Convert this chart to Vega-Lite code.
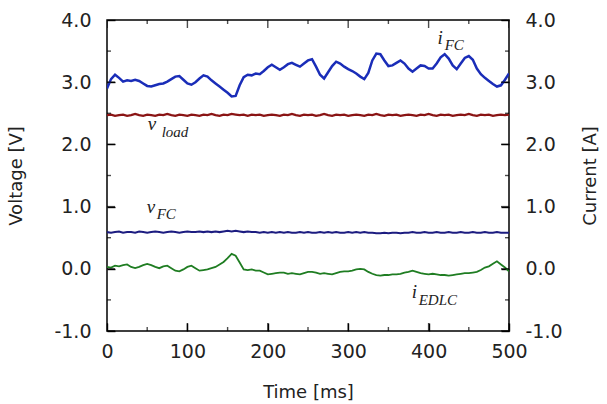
{
  "$schema": "https://vega.github.io/schema/vega-lite/v6.json",
  "width": 402,
  "height": 311,
  "autosize": "none",
  "padding": {"left": 107, "top": 20, "right": 98, "bottom": 73},
  "background": "white",
  "config": {
    "view": {"stroke": "black", "strokeWidth": 1.5},
    "axis": {
      "labelFont": "DejaVu Sans",
      "titleFont": "DejaVu Sans",
      "labelFontSize": 19,
      "titleFontSize": 18,
      "titleFontWeight": "normal",
      "labelColor": "#222",
      "titleColor": "#222",
      "labelFlush": false,
      "labelOverlap": false,
      "domain": false,
      "grid": false,
      "ticks": true,
      "tickColor": "black",
      "tickWidth": 1.4
    }
  },
  "datasets": {
    "series": [
      {"t":0,"iFC":2.90,"vload":2.47,"vFC":0.59,"iEDLC":0.03},
      {"t":5,"iFC":3.05,"vload":2.48,"vFC":0.58,"iEDLC":0.02},
      {"t":10,"iFC":3.12,"vload":2.46,"vFC":0.59,"iEDLC":0.05},
      {"t":15,"iFC":3.07,"vload":2.47,"vFC":0.60,"iEDLC":0.04},
      {"t":20,"iFC":3.01,"vload":2.48,"vFC":0.58,"iEDLC":0.06},
      {"t":25,"iFC":3.03,"vload":2.46,"vFC":0.59,"iEDLC":0.07},
      {"t":30,"iFC":3.02,"vload":2.47,"vFC":0.59,"iEDLC":0.03},
      {"t":35,"iFC":3.04,"vload":2.49,"vFC":0.58,"iEDLC":0.01},
      {"t":40,"iFC":3.02,"vload":2.47,"vFC":0.60,"iEDLC":0.03},
      {"t":45,"iFC":2.98,"vload":2.46,"vFC":0.59,"iEDLC":0.06},
      {"t":50,"iFC":2.94,"vload":2.48,"vFC":0.58,"iEDLC":0.08},
      {"t":55,"iFC":2.93,"vload":2.47,"vFC":0.59,"iEDLC":0.06},
      {"t":60,"iFC":2.95,"vload":2.46,"vFC":0.60,"iEDLC":0.03},
      {"t":65,"iFC":2.97,"vload":2.48,"vFC":0.59,"iEDLC":0.01},
      {"t":70,"iFC":2.98,"vload":2.47,"vFC":0.58,"iEDLC":0.04},
      {"t":75,"iFC":3.01,"vload":2.49,"vFC":0.59,"iEDLC":0.05},
      {"t":80,"iFC":3.05,"vload":2.47,"vFC":0.60,"iEDLC":0.01},
      {"t":85,"iFC":3.09,"vload":2.46,"vFC":0.59,"iEDLC":-0.03},
      {"t":90,"iFC":3.10,"vload":2.48,"vFC":0.58,"iEDLC":-0.04},
      {"t":95,"iFC":3.04,"vload":2.47,"vFC":0.59,"iEDLC":-0.01},
      {"t":100,"iFC":2.98,"vload":2.46,"vFC":0.60,"iEDLC":0.03},
      {"t":105,"iFC":2.96,"vload":2.48,"vFC":0.59,"iEDLC":0.05},
      {"t":110,"iFC":3.00,"vload":2.47,"vFC":0.59,"iEDLC":0.01},
      {"t":115,"iFC":3.06,"vload":2.46,"vFC":0.60,"iEDLC":-0.03},
      {"t":120,"iFC":3.11,"vload":2.48,"vFC":0.59,"iEDLC":-0.02},
      {"t":125,"iFC":3.09,"vload":2.47,"vFC":0.60,"iEDLC":-0.01},
      {"t":130,"iFC":3.03,"vload":2.49,"vFC":0.59,"iEDLC":0.01},
      {"t":135,"iFC":2.98,"vload":2.47,"vFC":0.60,"iEDLC":0.03},
      {"t":140,"iFC":2.93,"vload":2.46,"vFC":0.59,"iEDLC":0.07},
      {"t":145,"iFC":2.88,"vload":2.48,"vFC":0.60,"iEDLC":0.11},
      {"t":150,"iFC":2.83,"vload":2.47,"vFC":0.61,"iEDLC":0.17},
      {"t":155,"iFC":2.77,"vload":2.49,"vFC":0.60,"iEDLC":0.24},
      {"t":160,"iFC":2.78,"vload":2.48,"vFC":0.61,"iEDLC":0.21},
      {"t":165,"iFC":2.95,"vload":2.47,"vFC":0.60,"iEDLC":0.10},
      {"t":170,"iFC":3.08,"vload":2.48,"vFC":0.59,"iEDLC":-0.01},
      {"t":175,"iFC":3.12,"vload":2.46,"vFC":0.60,"iEDLC":-0.02},
      {"t":180,"iFC":3.11,"vload":2.48,"vFC":0.59,"iEDLC":-0.01},
      {"t":185,"iFC":3.14,"vload":2.47,"vFC":0.59,"iEDLC":-0.03},
      {"t":190,"iFC":3.13,"vload":2.48,"vFC":0.58,"iEDLC":-0.03},
      {"t":195,"iFC":3.18,"vload":2.46,"vFC":0.59,"iEDLC":-0.06},
      {"t":200,"iFC":3.24,"vload":2.47,"vFC":0.58,"iEDLC":-0.09},
      {"t":205,"iFC":3.28,"vload":2.48,"vFC":0.59,"iEDLC":-0.08},
      {"t":210,"iFC":3.24,"vload":2.47,"vFC":0.58,"iEDLC":-0.07},
      {"t":215,"iFC":3.20,"vload":2.46,"vFC":0.59,"iEDLC":-0.06},
      {"t":220,"iFC":3.24,"vload":2.48,"vFC":0.58,"iEDLC":-0.06},
      {"t":225,"iFC":3.29,"vload":2.47,"vFC":0.59,"iEDLC":-0.08},
      {"t":230,"iFC":3.31,"vload":2.49,"vFC":0.58,"iEDLC":-0.07},
      {"t":235,"iFC":3.28,"vload":2.47,"vFC":0.58,"iEDLC":-0.08},
      {"t":240,"iFC":3.25,"vload":2.46,"vFC":0.59,"iEDLC":-0.09},
      {"t":245,"iFC":3.30,"vload":2.48,"vFC":0.58,"iEDLC":-0.07},
      {"t":250,"iFC":3.35,"vload":2.47,"vFC":0.59,"iEDLC":-0.05},
      {"t":255,"iFC":3.37,"vload":2.48,"vFC":0.58,"iEDLC":-0.05},
      {"t":260,"iFC":3.25,"vload":2.46,"vFC":0.58,"iEDLC":-0.06},
      {"t":265,"iFC":3.12,"vload":2.47,"vFC":0.59,"iEDLC":-0.08},
      {"t":270,"iFC":3.06,"vload":2.49,"vFC":0.58,"iEDLC":-0.07},
      {"t":275,"iFC":3.16,"vload":2.47,"vFC":0.59,"iEDLC":-0.08},
      {"t":280,"iFC":3.26,"vload":2.46,"vFC":0.58,"iEDLC":-0.09},
      {"t":285,"iFC":3.33,"vload":2.48,"vFC":0.59,"iEDLC":-0.07},
      {"t":290,"iFC":3.30,"vload":2.47,"vFC":0.58,"iEDLC":-0.05},
      {"t":295,"iFC":3.25,"vload":2.48,"vFC":0.58,"iEDLC":-0.04},
      {"t":300,"iFC":3.21,"vload":2.46,"vFC":0.59,"iEDLC":-0.04},
      {"t":305,"iFC":3.18,"vload":2.47,"vFC":0.58,"iEDLC":-0.03},
      {"t":310,"iFC":3.14,"vload":2.48,"vFC":0.59,"iEDLC":-0.01},
      {"t":315,"iFC":3.09,"vload":2.47,"vFC":0.58,"iEDLC":0.00},
      {"t":320,"iFC":3.05,"vload":2.46,"vFC":0.59,"iEDLC":-0.01},
      {"t":325,"iFC":3.15,"vload":2.48,"vFC":0.58,"iEDLC":-0.05},
      {"t":330,"iFC":3.35,"vload":2.47,"vFC":0.58,"iEDLC":-0.08},
      {"t":335,"iFC":3.46,"vload":2.49,"vFC":0.57,"iEDLC":-0.10},
      {"t":340,"iFC":3.45,"vload":2.47,"vFC":0.57,"iEDLC":-0.11},
      {"t":345,"iFC":3.35,"vload":2.46,"vFC":0.58,"iEDLC":-0.10},
      {"t":350,"iFC":3.26,"vload":2.48,"vFC":0.57,"iEDLC":-0.10},
      {"t":355,"iFC":3.27,"vload":2.47,"vFC":0.58,"iEDLC":-0.09},
      {"t":360,"iFC":3.31,"vload":2.48,"vFC":0.58,"iEDLC":-0.09},
      {"t":365,"iFC":3.35,"vload":2.46,"vFC":0.57,"iEDLC":-0.08},
      {"t":370,"iFC":3.30,"vload":2.47,"vFC":0.58,"iEDLC":-0.06},
      {"t":375,"iFC":3.22,"vload":2.48,"vFC":0.58,"iEDLC":-0.05},
      {"t":380,"iFC":3.17,"vload":2.47,"vFC":0.59,"iEDLC":-0.03},
      {"t":385,"iFC":3.22,"vload":2.46,"vFC":0.58,"iEDLC":-0.05},
      {"t":390,"iFC":3.27,"vload":2.48,"vFC":0.58,"iEDLC":-0.07},
      {"t":395,"iFC":3.26,"vload":2.47,"vFC":0.59,"iEDLC":-0.08},
      {"t":400,"iFC":3.22,"vload":2.49,"vFC":0.58,"iEDLC":-0.09},
      {"t":405,"iFC":3.22,"vload":2.47,"vFC":0.58,"iEDLC":-0.08},
      {"t":410,"iFC":3.30,"vload":2.46,"vFC":0.59,"iEDLC":-0.09},
      {"t":415,"iFC":3.40,"vload":2.48,"vFC":0.58,"iEDLC":-0.10},
      {"t":420,"iFC":3.45,"vload":2.47,"vFC":0.58,"iEDLC":-0.10},
      {"t":425,"iFC":3.38,"vload":2.48,"vFC":0.59,"iEDLC":-0.11},
      {"t":430,"iFC":3.27,"vload":2.46,"vFC":0.58,"iEDLC":-0.10},
      {"t":435,"iFC":3.21,"vload":2.47,"vFC":0.58,"iEDLC":-0.09},
      {"t":440,"iFC":3.30,"vload":2.48,"vFC":0.59,"iEDLC":-0.08},
      {"t":445,"iFC":3.39,"vload":2.47,"vFC":0.58,"iEDLC":-0.07},
      {"t":450,"iFC":3.42,"vload":2.49,"vFC":0.58,"iEDLC":-0.07},
      {"t":455,"iFC":3.36,"vload":2.47,"vFC":0.59,"iEDLC":-0.06},
      {"t":460,"iFC":3.22,"vload":2.46,"vFC":0.58,"iEDLC":-0.05},
      {"t":465,"iFC":3.13,"vload":2.48,"vFC":0.58,"iEDLC":-0.02},
      {"t":470,"iFC":3.07,"vload":2.47,"vFC":0.59,"iEDLC":0.02},
      {"t":475,"iFC":3.02,"vload":2.48,"vFC":0.58,"iEDLC":0.04},
      {"t":480,"iFC":2.97,"vload":2.46,"vFC":0.58,"iEDLC":0.08},
      {"t":485,"iFC":2.93,"vload":2.47,"vFC":0.59,"iEDLC":0.12},
      {"t":490,"iFC":2.95,"vload":2.48,"vFC":0.58,"iEDLC":0.07},
      {"t":495,"iFC":3.04,"vload":2.47,"vFC":0.58,"iEDLC":0.02},
      {"t":500,"iFC":3.14,"vload":2.48,"vFC":0.58,"iEDLC":-0.04}
    ],
    "xticks": [
      {"t":0,"kind":"major"},{"t":50,"kind":"minor"},{"t":100,"kind":"major"},{"t":150,"kind":"minor"},
      {"t":200,"kind":"major"},{"t":250,"kind":"minor"},{"t":300,"kind":"major"},{"t":350,"kind":"minor"},
      {"t":400,"kind":"major"},{"t":450,"kind":"minor"},{"t":500,"kind":"major"}
    ],
    "yticks": [
      {"v":-1,"kind":"major"},{"v":-0.5,"kind":"minor"},{"v":0,"kind":"major"},{"v":0.5,"kind":"minor"},
      {"v":1,"kind":"major"},{"v":1.5,"kind":"minor"},{"v":2,"kind":"major"},{"v":2.5,"kind":"minor"},
      {"v":3,"kind":"major"},{"v":3.5,"kind":"minor"},{"v":4,"kind":"major"}
    ],
    "mainLabels": [
      {"t":50.6,"v":2.234,"txt":"v"},
      {"t":49.4,"v":0.902,"txt":"v"},
      {"t":411,"v":3.615,"txt":"i"},
      {"t":379,"v":-0.462,"txt":"i"}
    ],
    "subLabels": [
      {"t":68,"v":2.12,"txt":"load"},
      {"t":61.8,"v":0.806,"txt":"FC"},
      {"t":420,"v":3.52,"txt":"FC"},
      {"t":387.7,"v":-0.59,"txt":"EDLC"}
    ]
  },
  "resolve": {"axis": {"x": "independent", "y": "independent"}},
  "layer": [
    {
      "data": {"name": "series"},
      "transform": [{"fold": ["iFC", "vload", "vFC", "iEDLC"], "as": ["s", "v"]}],
      "mark": {"type": "line", "clip": true},
      "encoding": {
        "x": {
          "field": "t", "type": "quantitative",
          "scale": {"domain": [0, 500], "nice": false, "zero": false},
          "axis": {
            "orient": "bottom",
            "values": [0,100,200,300,400,500],
            "offset": -8,
            "tickSize": 8,
            "labelPadding": 11,
            "title": "Time [ms]",
            "titlePadding": 22
          }
        },
        "y": {
          "field": "v", "type": "quantitative",
          "scale": {"domain": [-1, 4], "nice": false, "zero": false},
          "axis": {
            "orient": "left",
            "values": [-1,0,1,2,3,4],
            "labelExpr": "replace(format(datum.value, '.1f'), '\u2212', '-')",
            "offset": -8,
            "tickSize": 8,
            "labelPadding": 16,
            "title": "Voltage [V]",
            "titlePadding": 28
          }
        },
        "color": {
          "field": "s", "type": "nominal",
          "scale": {"domain": ["iFC", "vload", "vFC", "iEDLC"], "range": ["#1a2db8", "#8a1414", "#1c1c80", "#1f7d22"]},
          "legend": null
        },
        "strokeWidth": {
          "field": "s", "type": "nominal",
          "scale": {"domain": ["iFC", "vload", "vFC", "iEDLC"], "range": [2.5, 1.8, 1.8, 2.4]},
          "legend": null
        }
      }
    },
    {
      "data": {"name": "series"},
      "mark": {"type": "line", "opacity": 0},
      "encoding": {
        "x": {"field": "t", "type": "quantitative", "axis": null},
        "y": {
          "field": "iFC", "type": "quantitative",
          "axis": {
            "orient": "right",
            "values": [-1,0,1,2,3,4],
            "labelExpr": "replace(format(datum.value, '.1f'), '\u2212', '-')",
            "offset": -8,
            "tickSize": 8,
            "labelPadding": 16,
            "title": "Current [A]",
            "titleAngle": 270,
            "titlePadding": 37
          }
        }
      }
    },
    {
      "data": {"name": "xticks"},
      "mark": {"type": "tick", "orient": "vertical", "clip": true, "color": "black", "thickness": 1.4},
      "encoding": {
        "x": {"field": "t", "type": "quantitative", "axis": null},
        "y": {"datum": -1, "type": "quantitative", "axis": null},
        "size": {"field": "kind", "type": "nominal", "scale": {"domain": ["major", "minor"], "range": [16, 8]}, "legend": null}
      }
    },
    {
      "data": {"name": "xticks"},
      "mark": {"type": "tick", "orient": "vertical", "clip": true, "color": "black", "thickness": 1.4},
      "encoding": {
        "x": {"field": "t", "type": "quantitative", "axis": null},
        "y": {"datum": 4, "type": "quantitative", "axis": null},
        "size": {"field": "kind", "type": "nominal", "scale": {"domain": ["major", "minor"], "range": [16, 8]}, "legend": null}
      }
    },
    {
      "data": {"name": "yticks"},
      "mark": {"type": "tick", "orient": "horizontal", "clip": true, "color": "black", "thickness": 1.4},
      "encoding": {
        "y": {"field": "v", "type": "quantitative", "axis": null},
        "x": {"datum": 0, "type": "quantitative", "axis": null},
        "size": {"field": "kind", "type": "nominal", "scale": {"domain": ["major", "minor"], "range": [16, 8]}, "legend": null}
      }
    },
    {
      "data": {"name": "yticks"},
      "mark": {"type": "tick", "orient": "horizontal", "clip": true, "color": "black", "thickness": 1.4},
      "encoding": {
        "y": {"field": "v", "type": "quantitative", "axis": null},
        "x": {"datum": 500, "type": "quantitative", "axis": null},
        "size": {"field": "kind", "type": "nominal", "scale": {"domain": ["major", "minor"], "range": [16, 8]}, "legend": null}
      }
    },
    {
      "data": {"name": "mainLabels"},
      "mark": {"type": "text", "align": "left", "baseline": "alphabetic", "font": "Liberation Serif", "fontStyle": "italic", "fontSize": 19, "color": "#222"},
      "encoding": {
        "x": {"field": "t", "type": "quantitative", "axis": null},
        "y": {"field": "v", "type": "quantitative", "axis": null},
        "text": {"field": "txt"}
      }
    },
    {
      "data": {"name": "subLabels"},
      "mark": {"type": "text", "align": "left", "baseline": "alphabetic", "font": "Liberation Serif", "fontStyle": "italic", "fontSize": 15, "color": "#222"},
      "encoding": {
        "x": {"field": "t", "type": "quantitative", "axis": null},
        "y": {"field": "v", "type": "quantitative", "axis": null},
        "text": {"field": "txt"}
      }
    }
  ]
}
